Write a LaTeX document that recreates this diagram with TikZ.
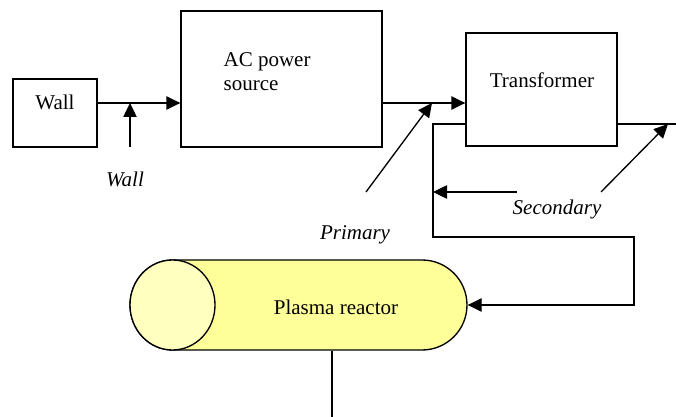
\documentclass[tikz,border=0pt]{standalone}
\usepackage{fontspec}
\setmainfont{Liberation Serif}
\usetikzlibrary{shapes,arrows.meta,positioning,calc}
\definecolor{reactorbody}{HTML}{FFFF99}
\definecolor{reactorend}{HTML}{FFFFC0}

\begin{document}
\begin{tikzpicture}[
  x=0.75pt, y=-0.75pt,
  every node/.style={font=\fontsize{15.75}{17.6}\selectfont},
  box/.style={draw, rectangle, line width=1pt, inner sep=0pt},
  txt/.style={inner sep=0pt},
  note/.style={inner sep=0pt, font=\fontsize{15.75}{17.6}\selectfont\itshape},
  line width=1pt,
  >={Triangle[length=10.5pt, width=10pt]}
]
  \useasboundingbox (0,0) rectangle (676,417);

  % boxes
  \node[box, minimum width=63pt, minimum height=51pt] (wall) at (55,113) {};
  \node[box, minimum width=150.75pt, minimum height=102pt] (ac) at (281.5,79) {};
  \node[box, minimum width=113.25pt, minimum height=84.75pt] (trans) at (541.5,89.5) {};
  \node[inner sep=0pt, minimum width=252.75pt, minimum height=67.5pt] (reactor) at (298.5,305) {};

  % reactor body and end face
  \draw[fill=reactorbody] (172.5,260) -- (422,260)
    arc[start angle=90, end angle=-90, radius=33.75pt] -- (172.5,350)
    arc[start angle=-90, end angle=-270, x radius=31.875pt, y radius=33.75pt] -- cycle;
  \draw[fill=reactorend] (172.5,305) ellipse [x radius=31.875pt, y radius=33.75pt];

  % texts
  \node[txt, anchor=base] (walltext) at (55,110) {Wall};
  \node[txt, anchor=west, align=left] (actext) at (223,71.5) {AC power\\source};
  \node[txt, anchor=base] (transtext) at (542,88) {Transformer};
  \node[txt, anchor=base] (reactortext) at (336,315) {Plasma reactor};
  \node[note, anchor=base] (walllabel) at (125,187) {Wall};
  \node[note, anchor=base] (primlabel) at (355,240) {Primary};
  \node[note, anchor=base] (seclabel) at (557,215) {Secondary};

  % points
  \coordinate (wallout) at ([yshift=7.5pt]wall.east);
  \coordinate (acout) at (ac.east |- wallout);
  \coordinate (wallup) at (130,147);
  \coordinate (primtail) at (366,192);
  \coordinate (primhead) at (432,103);
  \coordinate (secA) at (trans.west |- 0,124);
  \coordinate (secbend) at (433,124);
  \coordinate (loopR) at (634,237);
  \coordinate (sectail) at (517,192);
  \coordinate (secB) at (trans.east |- secA);
  \coordinate (secend) at (676,124);
  \coordinate (secdtail) at (601,192);
  \coordinate (secdhead) at (668,124);
  \coordinate (gnd) at (332,417);

  % connectors
  \draw[->] (wallout) -- (wallout -| ac.west);
  \draw[->] (wallup) -- (wallup |- wallout);
  \draw[->] (acout) -- (acout -| trans.west);
  \draw[->] (primtail) -- (primhead);
  \draw[->] (secA) -- (secbend) |- (loopR) |- (reactor.east);
  \draw[->] (sectail) -- (sectail -| secbend);
  \draw (secB) -- (secend);
  \draw[->] (secdtail) -- (secdhead);
  \draw (reactor.south -| gnd) -- (gnd);
\end{tikzpicture}
\end{document}
